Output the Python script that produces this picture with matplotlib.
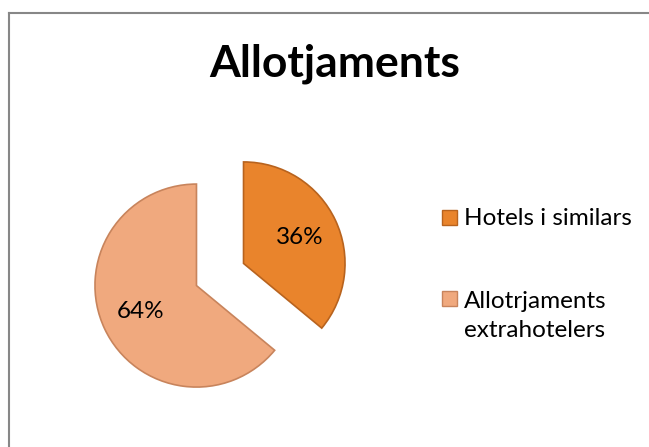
import matplotlib.pyplot as plt
from matplotlib.lines import Line2D
from matplotlib.patches import Rectangle

plt.rcParams['font.family'] = ['Lato', 'DejaVu Sans']

title = "Allotjaments"
labels = ["Hotels i similars", "Allotrjaments\nextrahotelers"]
values = [36, 64]
colors = ["#E9842C", "#F0A97E"]
edges = ["#B8631E", "#C8845C"]

W, H = 649, 447

def main():
    fig = plt.figure(figsize=(W / 100, H / 100), dpi=100)
    ax = fig.add_axes([0, 0, 1, 1])

    # explode is in data units here (pixels), not fraction of radius
    wedges, texts, autotexts = ax.pie(
        values, colors=colors, startangle=90, counterclock=False,
        explode=[26, 26], radius=101.5, center=(220, H - 274.5),
        autopct="%1.0f%%", pctdistance=0.61,
        textprops=dict(fontsize=17.5, color="black"),
        wedgeprops=dict(linewidth=1.2),
    )
    for w, e in zip(wedges, edges):
        w.set_edgecolor(e)

    ax.set_xlim(0, W)
    ax.set_ylim(0, H)
    ax.set_aspect("equal")
    ax.axis("off")

    fig.text(335 / W, 1 - 76 / H, title, fontsize=32, fontweight="bold",
             ha="center", va="baseline")

    # legend: square swatch + label, first-line baselines 80px apart
    line_gap = 31
    for i, (lab, c, e) in enumerate(zip(labels, colors, edges)):
        base = 225 + 81 * i
        ax.add_patch(Rectangle((442, H - base), 15, 15, facecolor=c,
                               edgecolor=e, linewidth=1))
        # va='baseline' on multi-line text sits on the last line
        last = base + line_gap * lab.count("\n")
        ax.text(464, H - last, lab, fontsize=17.5, ha="left", va="baseline",
                linespacing=1.45)

    # only the top and left edges of the chart border are in the picture
    fig.add_artist(Line2D([9 / W, 9 / W], [0, 1 - 13 / H], color="#878787",
                          linewidth=1.5, transform=fig.transFigure))
    fig.add_artist(Line2D([9 / W, 1], [1 - 13 / H, 1 - 13 / H], color="#878787",
                          linewidth=1.5, transform=fig.transFigure))

    plt.savefig("out.png", dpi=100)

if __name__ == '__main__':
    main()
